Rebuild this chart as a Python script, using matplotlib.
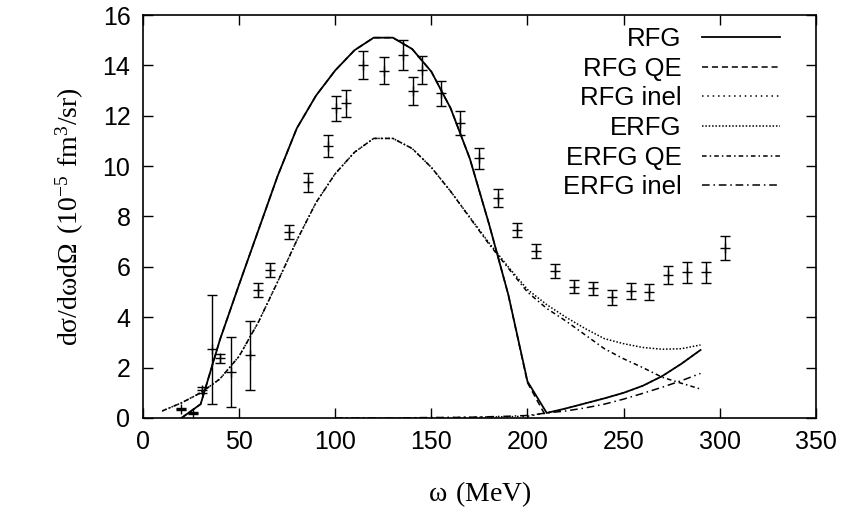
import numpy as np
import matplotlib.pyplot as plt

# model curves, omega in MeV, cross section in 1e-5 fm^3/sr
w_rfg = [20, 30, 40, 50, 60, 70, 80, 90, 100, 110, 120, 130, 140, 150, 160, 170, 180, 190, 200,
         210, 220, 230, 240, 250, 260, 270, 280, 290]
rfg = [0.0, 0.55, 3.1, 5.3, 7.45, 9.6, 11.5, 12.8, 13.8, 14.6, 15.1, 15.1, 14.65, 13.75, 12.3,
       10.3, 7.7, 4.9, 1.45, 0.2, 0.38, 0.58, 0.78, 1.0, 1.28, 1.66, 2.15, 2.7]

w_rfg_qe = [20, 30, 40, 50, 60, 70, 80, 90, 100, 110, 120, 130, 140, 150, 160, 170, 180, 190, 200, 210]
rfg_qe = [0.0, 0.55, 3.1, 5.3, 7.45, 9.6, 11.5, 12.8, 13.8, 14.6, 15.1, 15.1, 14.65, 13.75, 12.3,
          10.3, 7.7, 4.9, 1.4, 0.0]

w_inel = [100, 110, 120, 130, 140, 150, 160, 170, 180, 190, 200, 210, 220, 230, 240, 250, 260, 270, 280, 290]
rfg_inel = [0.0, 0.0, 0.0, 0.0, 0.01, 0.01, 0.02, 0.03, 0.04, 0.05, 0.07, 0.2, 0.38, 0.58, 0.78,
            1.0, 1.28, 1.66, 2.15, 2.7]
erfg_inel = [0.0, 0.0, 0.0, 0.0, 0.01, 0.02, 0.02, 0.03, 0.05, 0.07, 0.1, 0.2, 0.28, 0.4, 0.55,
             0.75, 0.98, 1.22, 1.48, 1.77]

w_erfg = [10, 20, 30, 40, 50, 60, 70, 80, 90, 100, 110, 120, 130, 140, 150, 160, 170, 180, 190, 200,
          210, 220, 230, 240, 250, 260, 270, 280, 290]
erfg = [0.28, 0.6, 1.0, 1.55, 2.45, 3.8, 5.4, 7.05, 8.55, 9.7, 10.55, 11.1, 11.1, 10.7, 9.95, 9.0,
        7.97, 6.95, 6.0, 5.1, 4.5, 4.0, 3.55, 3.15, 2.95, 2.8, 2.73, 2.75, 2.9]
erfg_qe = [0.28, 0.6, 1.0, 1.55, 2.45, 3.8, 5.4, 7.05, 8.55, 9.7, 10.55, 11.1, 11.1, 10.7, 9.95, 9.0,
           7.95, 6.9, 5.95, 5.0, 4.35, 3.85, 3.3, 2.75, 2.35, 2.0, 1.62, 1.38, 1.15]

# experimental data
w_exp = [20, 26, 30.5, 35.7, 40, 45.8, 55.7, 60, 66, 76, 86, 96, 100.4, 105.6, 114.6, 125.6, 135,
         140.3, 145.2, 155, 165, 174.8, 184.9, 194.4, 204.3, 214.5, 224.2, 234, 244, 253.7, 263.4,
         273.3, 283.2, 292.9, 302.8]
xs_exp = [0.35, 0.21, 1.11, 2.73, 2.37, 1.84, 2.5, 5.08, 5.88, 7.4, 9.36, 10.8, 12.29, 12.49,
          14.01, 13.79, 14.41, 12.99, 13.82, 12.89, 11.7, 10.31, 8.72, 7.46, 6.64, 5.84, 5.21,
          5.15, 4.8, 5.04, 5.01, 5.68, 5.78, 5.78, 6.74]
err_exp = [0.05, 0.04, 0.12, 2.17, 0.17, 1.39, 1.37, 0.27, 0.28, 0.28, 0.37, 0.43, 0.49, 0.52,
           0.55, 0.54, 0.58, 0.55, 0.54, 0.5, 0.48, 0.41, 0.36, 0.29, 0.28, 0.28, 0.26, 0.26,
           0.3, 0.31, 0.32, 0.36, 0.41, 0.41, 0.48]

plt.rcParams['font.family'] = ['Liberation Sans', 'DejaVu Sans']
plt.rcParams['mathtext.fontset'] = 'custom'
plt.rcParams['mathtext.rm'] = 'Liberation Serif'

fig = plt.figure(figsize=(8.49, 5.12), dpi=100)
ax = fig.add_axes([0.1684, 0.1836, 0.7926, 0.7871])

lw = 1.1
ax.plot(w_rfg, rfg, color='black', lw=1.3, ls='-', label='RFG')
ax.plot(w_rfg_qe, rfg_qe, color='black', lw=lw, ls=(0, (4, 2.5)), label='RFG QE')
ax.plot(w_inel, rfg_inel, color='black', lw=lw, ls=(0, (1, 2.5)), label='RFG inel')
ax.plot(w_erfg, erfg, color='black', lw=lw, ls=(0, (1, 1.2)), label='ERFG')
ax.plot(w_erfg, erfg_qe, color='black', lw=lw, ls=(0, (3, 2, 1, 2)), label='ERFG QE')
ax.plot(w_inel, erfg_inel, color='black', lw=lw, ls=(0, (5, 2.5, 1, 2.5)), label='ERFG inel')

ax.errorbar(w_exp, xs_exp, yerr=err_exp, fmt='+', color='black', ms=7, mew=1.0,
            elinewidth=1.0, capsize=3.5, capthick=1.0)

ax.set_xlim(0, 350)
ax.set_ylim(0, 16)
ax.set_xticks(np.arange(0, 351, 50))
ax.set_yticks(np.arange(0, 17, 2))
ax.tick_params(direction='in', length=7, width=1, top=True, right=True, labelsize=18)
ax.tick_params(axis='x', pad=9)
ax.tick_params(axis='y', pad=9)
for s in ax.spines.values():
    s.set_linewidth(1.2)

ax.set_xlabel(r'$\mathrm{\omega\ (MeV)}$', fontsize=20, labelpad=18)
ax.set_ylabel(r'$\mathrm{d\sigma/d\omega d\Omega\ (10^{-5}\ fm^{3}/sr)}$', fontsize=20, labelpad=12)

leg = ax.legend(loc='upper right', bbox_to_anchor=(0.947, 0.97), frameon=False, fontsize=18.5,
                markerfirst=False, handlelength=3.05, handletextpad=0.8, labelspacing=0.22,
                borderpad=0.0, borderaxespad=0.0)
# right-align the entry rows (gnuplot style key)
for col in leg._legend_handle_box.get_children():
    col.align = 'right'

fig.savefig('out.png', dpi=100)
